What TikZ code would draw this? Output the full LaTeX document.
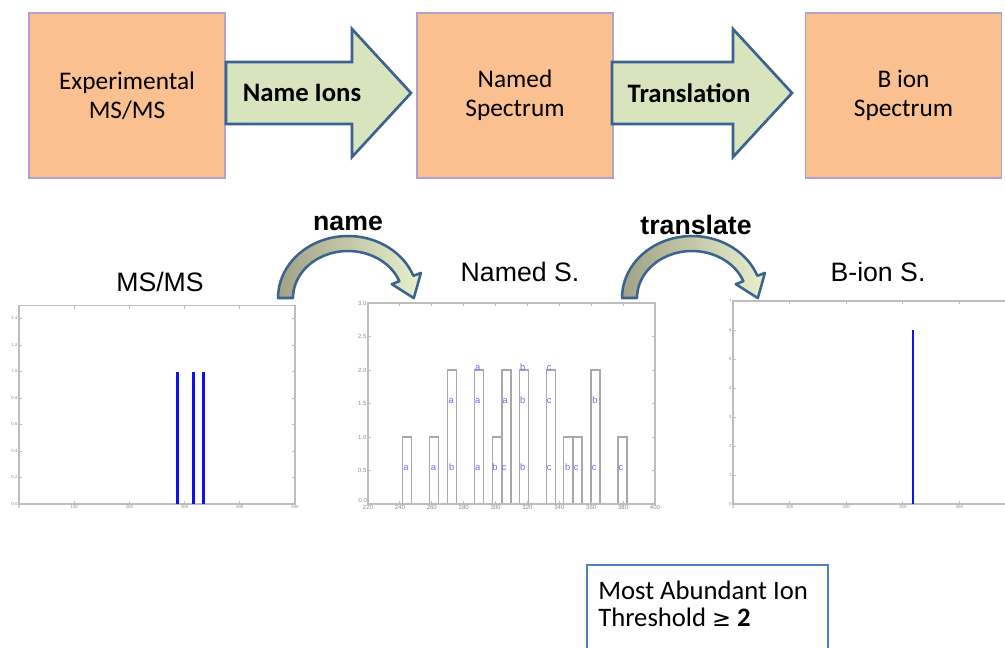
\documentclass[tikz,border=0pt]{standalone}
\usepackage{fontspec}
\setmainfont{Carlito}
\newfontfamily\arialf{Liberation Sans}
\newfontfamily\dejavu{DejaVu Sans}
\definecolor{boxfill}{HTML}{FAC090}
\definecolor{boxline}{HTML}{B3A2C7}
\definecolor{arrfill}{HTML}{D7E4BD}
\definecolor{arrline}{HTML}{3C6290}
\definecolor{curvedark}{HTML}{9FA285}
\definecolor{curvelight}{HTML}{E8F0CC}
\definecolor{axisgray}{HTML}{BDBDBD}
\definecolor{ticktext}{HTML}{8A8A8A}
\definecolor{barblue}{HTML}{1010F0}
\definecolor{lblblue}{HTML}{6A6AFF}
\definecolor{notebox}{HTML}{4F81BD}
\definecolor{bargray}{HTML}{A8A8A8}
\tikzset{
  stage/.style={draw=boxline, line width=0.8pt, fill=boxfill, minimum width=147pt,
    minimum height=123.75pt, align=center, inner sep=0pt,
    font=\fontsize{19}{22}\selectfont},
  blockarrow/.style={draw=arrline, line width=2pt, fill=arrfill, line join=miter},
  curvearrow/.style={draw=arrline, line width=1.9pt, left color=curvedark, right color=curvelight, line join=round},
  arrowlabel/.style={inner sep=0pt, font=\fontsize{20}{24}\selectfont\bfseries},
  curvelabel/.style={inner sep=0pt, font=\arialf\fontsize{20}{24}\selectfont\bfseries},
  plottitle/.style={inner sep=0pt, font=\arialf\fontsize{20}{24}\selectfont},
  plotframe/.style={draw=axisgray, line width=1.1pt},
  axtick/.style={draw=axisgray, line width=0.6pt},
  ticklbl/.style={text=ticktext, inner sep=1pt, font=\arialf\fontsize{4.5}{4.5}\selectfont},
  tinylbl/.style={text=ticktext, inner sep=1pt, font=\arialf\fontsize{3.2}{3.2}\selectfont},
  msbar/.style={draw=barblue, line width=2.25pt},
  bionbar/.style={draw=barblue, line width=1.5pt},
  namedbar/.style={draw=bargray, line width=1pt},
  ionlbl/.style={text=lblblue, inner sep=0pt, anchor=base, font=\arialf\fontsize{7}{7}\selectfont},
  notetext/.style={inner sep=0pt, align=left, font=\fontsize{20}{20.25}\selectfont},
  noteline/.style={draw=notebox, line width=1.5pt}
}
\begin{document}
\begin{tikzpicture}[x=0.75pt,y=-0.75pt]
\useasboundingbox (0,0) rectangle (1005,647);

% ---- top row ----
\node[stage] (b1) at (127,95.5) {Experimental\\MS/MS};
\node[stage] (b2) at (515,95.5) {Named\\Spectrum};
\node[stage] (b3) at (903.5,95.5) {B ion\\Spectrum};

\draw[blockarrow] (226,62) -- (352,62) -- (352,29) -- (411,93) -- (352,157) -- (352,124) -- (226,124) -- cycle;
\node[arrowlabel] (a1) at (302,93) {Name Ions};
\draw[blockarrow] (612,62) -- (733,62) -- (733,29) -- (792,93) -- (733,157) -- (733,124) -- (612,124) -- cycle;
\node[arrowlabel] (a2) at (689,93) {Translation};

% ---- curved arrows ----
\path[curvearrow] plot[domain=180:21, samples=40] ({348+70*cos(\x)},{298-62*sin(\x)})
  -- (420.9,272.9) -- (413.8,298.1) -- (391.8,284.1)
  -- plot[domain=21:180, samples=40] ({348+55*cos(\x)},{298-47*sin(\x)}) -- cycle;
\node[curvelabel] (c1) at (348,223) {name};
\begin{scope}[shift={(344,0)}]
\path[curvearrow] plot[domain=180:21, samples=40] ({348+70*cos(\x)},{298-62*sin(\x)})
  -- (420.9,272.9) -- (413.8,298.1) -- (391.8,284.1)
  -- plot[domain=21:180, samples=40] ({348+55*cos(\x)},{298-47*sin(\x)}) -- cycle;
\end{scope}
\node[curvelabel] (c2) at (696,225) {translate};

% ---- plot titles ----
\node[plottitle] (t1) at (160,282) {MS/MS};
\node[plottitle] (t2) at (520,272) {Named S.};
\node[plottitle] (t3) at (878,272) {B-ion S.};

% ---- plot 1: MS/MS ----
\begin{scope}[shift={(19,504)}, x=0.414pt, y=99.375pt]
  \draw[plotframe] (0,0) rectangle (500,1.5);
  \foreach \v [count=\i] in {0,100,200,300,400,500} {
    \draw[axtick] (\v,0) -- ++(0pt,2.5pt);
    \draw[axtick] (\v,1.5) -- ++(0pt,-2.5pt);
    \node[tinylbl, below] (p1x\i) at (\v,0) {\v};
  }
  \foreach \v/\l [count=\i] in {0/0.0,0.2/0.2,0.4/0.4,0.6/0.6,0.8/0.8,1.0/1.0,1.2/1.2,1.4/1.4} {
    \draw[axtick] (0,\v) -- ++(2.5pt,0pt);
    \draw[axtick] (500,\v) -- ++(-2.5pt,0pt);
    \node[tinylbl, left] (p1y\i) at (0,\v) {\l};
  }
  \draw[msbar] (288,0) -- (288,1);
  \draw[msbar] (317,0) -- (317,1);
  \draw[msbar] (335,0) -- (335,1);
\end{scope}

% ---- plot 2: Named S. ----
\begin{scope}[shift={(17.23,504)}, x=1.1958pt, y=50.25pt]
  \foreach \c/\h in {244.4/1,261.3/1,272.5/2,289.5/2,301/1,306.8/2,317.8/2,334.8/2,345.6/1,351.4/1,362.7/2,379.6/1} {
    \draw[namedbar] (\c-2.8,0) rectangle (\c+2.8,\h);
  }
  \draw[plotframe] (220,0) rectangle (400,3);
  \foreach \v [count=\i] in {220,240,260,280,300,320,340,360,380,400} {
    \draw[axtick] (\v,0) -- ++(0pt,2.5pt);
    \draw[axtick] (\v,3) -- ++(0pt,-2.5pt);
    \node[ticklbl, below, inner sep=0.6pt] (p2x\i) at (\v,0) {\v};
  }
  \foreach \v/\l [count=\i] in {0.5/0.5,1/1.0,1.5/1.5,2/2.0,2.5/2.5,3/3.0} {
    \draw[axtick] (220,\v) -- ++(2.5pt,0pt);
    \draw[axtick] (400,\v) -- ++(-2.5pt,0pt);
    \node[ticklbl, left] (p2y\i) at (220,\v) {\l};
  }
  \node[ticklbl, anchor=south east, inner sep=0.6pt] (p2y0) at (220,0) {0.0};
  \foreach \x/\y/\t [count=\i] in {243.8/0.5/a, 261/0.5/a, 272.5/0.5/b, 272.2/1.5/a,
     288.8/0.5/a, 288.8/1.5/a, 288.8/2.0/a, 299.7/0.5/b, 305.5/0.5/c, 306/1.5/a,
     317/0.5/b, 317/1.5/b, 317/2.0/b, 333.7/0.5/c, 333.7/1.5/c, 333.7/2.0/c,
     345.2/0.5/b, 350.6/0.5/c, 361.9/0.5/c, 362.4/1.5/b, 378.7/0.5/c} {
    \node[ionlbl] (ion\i) at (\x,\y) {\t};
  }
\end{scope}

% ---- plot 3: B-ion S. ----
\begin{scope}[shift={(733,504)}, x=0.4245pt, y=21.75pt]
  \draw[plotframe] (480.6,7) -- (0,7) -- (0,0) -- (480.6,0);
  \foreach \v [count=\i] in {0,100,200,300,400} {
    \draw[axtick] (\v,0) -- ++(0pt,2.5pt);
    \draw[axtick] (\v,7) -- ++(0pt,-2.5pt);
    \node[tinylbl, below] (p3x\i) at (\v,0) {\v};
  }
  \foreach \v [count=\i] in {0,1,2,3,4,5,6,7} {
    \draw[axtick] (0,\v) -- ++(2.5pt,0pt);
    \node[tinylbl, left] (p3y\i) at (0,\v) {\v};
  }
  \draw[bionbar] (317.5,0) -- (317.5,6);
\end{scope}

% ---- note box ----
\draw[noteline] (587,650) -- (587,565) -- (828,565) -- (828,650);
\node[notetext, anchor=west] (note) at (598,603.5) {Most Abundant Ion\\Threshold {\dejavu\fontsize{17}{20}\selectfont ≥} \textbf{2}};
\end{tikzpicture}
\end{document}
